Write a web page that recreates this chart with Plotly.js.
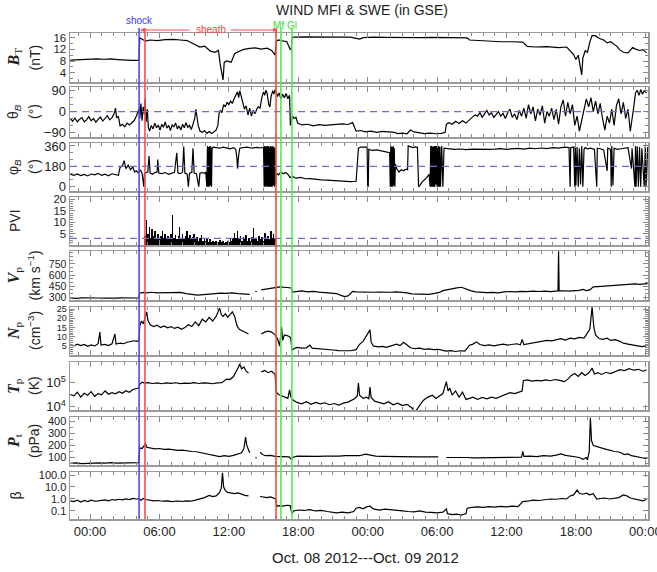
<!DOCTYPE html>
<html><head><meta charset="utf-8">
<script src="https://cdn.plot.ly/plotly-3.0.1.min.js"></script>
<style>html,body{margin:0;padding:0;background:#fff}#chart{width:657px;height:572px}</style>
</head><body><div id="chart"></div>
<script>
// Time in hours since 2012-10-08 00:00 UT, value
const BT = [[-1.7,8.3],[-1.2,8.4],[-0.6,8.5],[0,8.6],[0.6,8.7],[1.2,8.6],[1.8,8.7],[2.4,8.5],[3.0,8.3],[3.6,8.2],[4.1,8.2],[4.24,8.3],[4.3,16.0],[4.5,15.6],[4.8,14.8],[5.2,15.2],[5.8,15.0],[6.5,15.3],[7.2,15.4],[7.8,15.2],[8.4,15.0],[8.8,14.2],[9.2,13.5],[9.5,12.8],[9.9,13.1],[10.4,11.4],[10.8,11.0],[11.1,11.6],[11.25,7.0],[11.4,3.5],[11.5,1.5],[11.6,7.5],[11.8,8.0],[12.2,7.6],[12.5,10.5],[12.8,11.2],[13.3,12.0],[13.8,12.3],[14.3,12.5],[14.8,12.1],[15.3,12.4],[15.7,11.6],[16.0,10.0],[16.1,14.8],[16.3,15.2],[16.6,14.9],[17.0,14.7],[17.3,12.0],[17.4,11.8],[17.45,15.8],[17.6,16.2],[18.5,16.3],[19.5,16.2],[20.5,16.3],[21.5,16.2],[22.5,16.2],[23.3,15.5],[23.6,16.0],[24.5,16.2],[25.5,16.1],[26.5,16.0],[27.5,16.0],[28.5,16.0],[29.5,16.1],[30.5,16.0],[31.5,16.0],[32.6,15.9],[32.8,15.2],[33.5,15.0],[34.5,14.8],[35.5,14.6],[36.5,14.6],[37.4,14.5],[37.8,13.0],[38.5,12.8],[39.5,12.9],[40.5,12.6],[41.2,12.8],[41.5,11.5],[41.8,10.2],[42.0,8.5],[42.2,10.0],[42.4,5.5],[42.5,3.2],[42.6,9.0],[42.8,11.5],[43.0,11.0],[43.2,14.5],[43.4,16.8],[43.7,16.6],[44.0,15.8],[44.4,15.2],[44.7,14.2],[45.0,14.6],[45.2,14.0],[45.5,13.2],[45.8,11.8],[46.1,11.0],[46.5,10.8],[46.9,12.6],[47.2,12.0],[47.5,11.6],[47.8,11.9],[48.1,10.8]];

const THETA = [[-1.7,-30],[-1.5,-42],[-1.3,-28],[-1.1,-45],[-0.9,-33],[-0.7,-26],[-0.5,-44],[-0.3,-36],[-0.1,-22],[0.1,-40],[0.3,-30],[0.5,-46],[0.7,-34],[0.9,-24],[1.1,-41],[1.3,-30],[1.5,-18],[1.7,-36],[1.9,-26],[2.1,-8],[2.2,15],[2.3,-28],[2.45,-20],[2.6,-62],[2.8,-55],[3.0,-66],[3.2,-50],[3.4,-58],[3.6,-48],[3.8,-40],[4.0,-20],[4.15,5],[4.24,12],[4.3,-30],[4.4,35],[4.5,-40],[4.6,20],[4.7,-10],[4.75,55],[4.85,-45],[4.95,10],[5.05,-70],[5.15,-84],[5.3,-60],[5.45,-75],[5.6,-50],[5.75,-70],[5.9,-58],[6.05,-80],[6.2,-55],[6.35,-68],[6.5,-45],[6.65,-72],[6.8,-60],[6.95,-82],[7.1,-58],[7.25,-66],[7.4,-50],[7.55,-75],[7.7,-62],[7.85,-80],[8.0,-55],[8.15,-70],[8.3,-48],[8.45,-68],[8.6,-60],[8.75,-78],[8.9,-55],[9.05,-30],[9.15,10],[9.25,-20],[9.35,-60],[9.5,-84],[9.7,-90],[9.9,-82],[10.1,-94],[10.3,-86],[10.5,-95],[10.7,-88],[10.9,-80],[11.05,-60],[11.15,-10],[11.25,5],[11.4,-5],[11.55,30],[11.7,20],[11.85,40],[12.0,30],[12.15,45],[12.3,35],[12.45,55],[12.6,70],[12.75,85],[12.85,60],[12.95,90],[13.05,70],[13.2,40],[13.35,10],[13.5,25],[13.65,-15],[13.8,15],[13.95,-20],[14.1,5],[14.25,-10],[14.4,10],[14.55,20],[14.7,15],[14.85,60],[15.0,85],[15.1,70],[15.2,92],[15.3,80],[15.45,30],[15.55,20],[15.65,65],[15.8,90],[15.9,75],[16.0,95],[16.1,85],[16.2,65],[16.35,80],[16.5,55],[16.65,75],[16.8,60],[16.95,78],[17.1,55],[17.25,70],[17.32,-60],[17.4,-45],[17.5,-20],[17.65,-30],[17.8,-25],[17.95,-50],[18.3,-58],[18.8,-55],[19.3,-62],[19.8,-57],[20.3,-60],[20.8,-58],[21.3,-55],[21.8,-53],[22.3,-56],[22.7,-48],[23.0,-85],[23.4,-82],[23.8,-88],[24.3,-85],[24.8,-90],[25.3,-86],[25.8,-88],[26.3,-90],[26.6,-95],[27.0,-93],[27.4,-96],[27.7,-80],[28.0,-88],[28.4,-92],[28.9,-95],[29.4,-93],[29.9,-96],[30.4,-94],[30.7,-90],[30.8,-55],[31.0,-48],[31.3,-55],[31.6,-42],[31.9,-52],[32.2,-40],[32.5,-50],[32.8,-35],[33.1,-22],[33.3,-15],[33.5,-20],[33.7,-5],[33.9,-25],[34.1,-10],[34.3,5],[34.5,-15],[34.7,-5],[34.9,-25],[35.1,-10],[35.3,0],[35.5,-20],[35.7,-8],[35.9,-30],[36.1,-5],[36.3,10],[36.5,-25],[36.7,-10],[36.9,-35],[37.1,5],[37.3,-20],[37.5,15],[37.7,-30],[37.9,30],[38.1,-10],[38.3,20],[38.5,-40],[38.7,10],[38.9,-15],[39.1,25],[39.3,-50],[39.5,0],[39.7,-20],[39.9,15],[40.1,-35],[40.3,10],[40.5,-55],[40.7,20],[40.9,50],[41.1,-20],[41.3,40],[41.5,-10],[41.7,30],[41.9,-60],[42.1,-20],[42.3,-85],[42.5,-40],[42.7,10],[42.9,55],[43.1,20],[43.3,60],[43.5,0],[43.7,45],[43.9,-10],[44.1,35],[44.3,-30],[44.5,-80],[44.7,-20],[44.9,-50],[45.1,10],[45.3,-60],[45.5,25],[45.7,55],[45.9,-10],[46.1,40],[46.3,-30],[46.5,10],[46.7,-85],[46.85,-40],[47.0,20],[47.15,80],[47.3,92],[47.45,70],[47.6,95],[47.75,75],[47.9,90],[48.1,80]];

const PHI = [[-1.7,110],[-1.4,100],[-1.1,112],[-0.8,98],[-0.5,108],[-0.2,95],[0.1,112],[0.4,104],[0.7,118],[1.0,100],[1.3,110],[1.6,96],[1.9,114],[2.2,105],[2.45,100],[2.6,170],[2.8,185],[2.95,230],[3.1,160],[3.3,190],[3.5,150],[3.7,175],[3.85,130],[4.0,140],[4.15,125],[4.24,130],[4.35,150],[4.5,120],[4.65,0],[4.7,110],[4.85,125],[5.0,130],[5.1,270],[5.2,120],[5.4,110],[5.6,125],[5.8,130],[5.85,240],[5.95,120],[6.2,115],[6.5,125],[6.8,110],[7.0,120],[7.3,128],[7.5,300],[7.6,120],[7.8,115],[8.0,130],[8.1,354],[8.2,120],[8.4,110],[8.5,0],[8.6,120],[8.8,125],[8.9,340],[9.0,120],[9.2,115],[9.4,0],[9.5,120],[9.7,125],[9.9,118],[10.0,130],[10.1,0],[10.15,360],[10.2,0],[10.25,350],[10.3,0],[10.35,360],[10.4,10],[10.45,355],[10.5,0],[10.55,340],[10.65,350],[10.9,345],[11.2,340],[11.5,350],[11.8,345],[12.1,335],[12.4,345],[12.6,330],[12.7,250],[12.75,160],[12.85,280],[12.95,340],[13.2,345],[13.6,350],[14.0,340],[14.4,348],[14.8,342],[15.0,350],[15.05,0],[15.1,360],[15.15,0],[15.2,355],[15.25,5],[15.3,360],[15.35,0],[15.4,360],[15.45,0],[15.5,350],[15.55,0],[15.6,360],[15.65,0],[15.7,355],[15.75,0],[15.8,360],[15.85,10],[15.9,350],[15.95,0],[16.0,340],[16.05,20],[16.1,120],[16.3,105],[16.5,130],[16.7,115],[16.9,125],[17.1,110],[17.3,80],[17.5,90],[17.8,75],[18.2,82],[18.6,70],[19.0,72],[19.5,65],[20.0,60],[20.5,58],[21.0,55],[21.5,50],[22.0,52],[22.5,45],[23.0,48],[23.2,340],[23.4,350],[23.7,348],[23.95,350],[24.0,0],[24.05,5],[24.1,330],[24.4,320],[24.8,325],[25.2,315],[25.6,310],[25.9,300],[25.95,0],[26.0,360],[26.05,0],[26.1,350],[26.15,0],[26.2,360],[26.25,10],[26.3,340],[26.35,0],[26.4,200],[26.5,160],[26.7,130],[26.9,150],[27.1,140],[27.3,155],[27.45,150],[27.5,360],[27.7,350],[27.9,345],[28.1,352],[28.3,348],[28.4,0],[28.5,10],[28.7,40],[28.9,60],[29.1,80],[29.3,110],[29.4,0],[29.45,360],[29.5,0],[29.55,360],[29.6,0],[29.65,350],[29.7,0],[29.75,360],[29.8,0],[29.85,360],[29.9,20],[29.95,360],[30.0,0],[30.05,360],[30.1,0],[30.15,360],[30.2,0],[30.25,350],[30.3,0],[30.4,360],[30.5,0],[30.6,340],[31.0,335],[31.5,330],[32.0,333],[32.5,328],[33.0,332],[33.5,330],[34.0,334],[34.5,330],[35.0,332],[35.5,336],[36.0,330],[36.5,334],[37.0,338],[37.5,332],[38.0,340],[38.5,335],[39.0,342],[39.5,336],[40.0,345],[40.5,340],[41.0,350],[41.4,345],[41.5,0],[41.55,345],[41.8,350],[41.9,0],[41.95,360],[42.0,10],[42.1,350],[42.2,0],[42.3,340],[42.4,20],[42.5,360],[42.6,0],[42.7,330],[42.8,345],[43.0,335],[43.3,340],[43.6,330],[43.8,0],[43.85,340],[44.1,335],[44.4,325],[44.7,140],[44.75,340],[45.0,330],[45.05,0],[45.1,360],[45.2,10],[45.3,340],[45.6,330],[45.9,335],[46.2,340],[46.5,345],[46.8,160],[46.85,340],[47.1,0],[47.15,360],[47.2,0],[47.3,355],[47.4,0],[47.5,350],[47.6,0],[47.7,340],[47.9,0],[48.0,360],[48.05,0],[48.1,60],[48.2,350]];

const PVI = [[4.75,4],[4.875,11],[5.0,5],[5.125,8],[5.25,3],[5.375,7],[5.5,4],[5.625,6],[5.75,3],[5.875,5],[6.0,2.5],[6.125,4],[6.25,6],[6.375,3],[6.5,5],[6.625,2.5],[6.75,4],[6.875,3],[7.0,5],[7.125,13],[7.25,3],[7.375,4.5],[7.5,2.5],[7.625,4],[7.75,8],[7.875,3],[8.0,5],[8.125,2.5],[8.25,4],[8.375,6],[8.5,3],[8.625,4.5],[8.75,2.5],[8.875,3.5],[9.0,5],[9.125,2.5],[9.25,3.5],[9.375,2],[9.5,3],[9.625,4.5],[9.75,2],[9.875,3],[10.0,1.8],[10.125,2.5],[10.25,1.5],[10.375,2.8],[10.5,1.5],[10.625,2],[10.75,1.2],[10.875,1.8],[11.0,1],[11.125,1.5],[11.25,2.2],[11.375,1.2],[11.5,1.8],[11.625,1],[11.75,1.5],[11.875,2],[12.0,1.2],[12.125,2.5],[12.25,1.8],[12.375,3],[12.5,5.5],[12.625,3],[12.75,6],[12.875,2.5],[13.0,4],[13.125,2],[13.25,3.5],[13.375,2.5],[13.5,4.5],[13.625,2],[13.75,3],[13.875,1.8],[14.0,3.5],[14.125,7.5],[14.25,2.5],[14.375,3],[14.5,2],[14.625,4],[14.75,2.5],[14.875,3.5],[15.0,2],[15.125,5.5],[15.25,3],[15.375,4],[15.5,2.5],[15.625,6],[15.75,3],[15.875,5],[16.0,2.5]];

const VP = [[-1.7,290],[-1.2,285],[-0.7,292],[-0.2,288],[0.3,294],[0.8,290],[1.3,287],[1.8,293],[2.3,289],[2.8,292],[3.3,288],[3.8,291],[4.2,290],[4.3,355],[4.6,365],[4.9,360],[5.3,368],[5.8,358],[6.3,362],[6.8,356],[7.3,360],[7.8,365],[8.3,350],[8.8,338],[9.3,330],[9.8,335],[10.3,345],[10.8,350],[11.3,355],[11.8,352],[12.3,358],[12.8,350],[13.3,345],[13.8,340],[14.0,null],[14.3,385],[14.4,375],[14.5,null],[14.8,400],[15.2,410],[15.6,420],[16.0,430],[16.4,440],[16.8,435],[17.2,430],[17.4,425],[17.5,370],[17.8,375],[18.3,385],[18.8,372],[19.3,380],[19.8,370],[20.3,365],[20.8,360],[21.3,350],[21.7,325],[22.0,310],[22.3,318],[22.7,380],[23.0,372],[23.5,368],[24.0,372],[24.5,368],[25.0,370],[25.5,366],[26.0,368],[26.5,372],[27.0,366],[27.4,360],[27.8,345],[28.3,340],[28.8,336],[29.3,340],[29.8,352],[30.2,365],[30.5,390],[30.9,405],[31.3,415],[31.7,428],[32.1,435],[32.5,410],[32.9,390],[33.3,372],[33.8,365],[34.3,362],[34.8,366],[35.3,360],[35.8,372],[36.3,378],[36.8,372],[37.3,380],[37.8,375],[38.3,382],[38.8,378],[39.3,383],[39.8,376],[40.3,380],[40.45,385],[40.5,920],[40.55,385],[40.9,388],[41.4,382],[41.9,390],[42.3,392],[42.6,405],[42.9,390],[43.2,400],[43.5,440],[43.9,445],[44.3,450],[44.7,448],[45.1,455],[45.5,462],[45.9,470],[46.3,465],[46.7,472],[47.1,480],[47.5,475],[47.9,482],[48.2,485]];

const NP = [[-1.7,5.5],[-1.4,5.0],[-1.1,6.0],[-0.8,5.2],[-0.5,5.8],[-0.2,4.8],[0.1,5.6],[0.4,5.0],[0.7,6.2],[0.85,12.5],[0.95,5.5],[1.3,5.8],[1.6,5.2],[1.9,6.2],[2.15,11.5],[2.25,6.0],[2.6,6.5],[2.9,6.2],[3.2,7.0],[3.5,7.2],[3.8,7.8],[4.1,7.5],[4.24,8.0],[4.3,16.0],[4.45,18.5],[4.6,17.0],[4.75,20.0],[4.9,23.5],[5.0,19.0],[5.2,16.5],[5.5,15.5],[5.8,16.2],[6.1,15.0],[6.4,15.8],[6.7,14.8],[7.0,15.5],[7.3,14.5],[7.6,15.2],[7.9,14.0],[8.2,15.0],[8.5,16.5],[8.8,15.5],[9.1,18.0],[9.4,16.0],[9.7,19.5],[10.0,18.0],[10.3,20.5],[10.6,18.5],[10.9,21.0],[11.1,24.0],[11.2,25.5],[11.35,22.0],[11.5,21.0],[11.7,22.5],[11.9,20.5],[12.1,22.0],[12.3,23.5],[12.5,21.0],[12.7,16.0],[12.9,14.0],[13.2,13.0],[13.5,12.0],[13.7,11.5],[13.9,null],[14.4,9.0],[14.5,null],[14.8,11.5],[15.1,12.5],[15.4,13.0],[15.7,12.5],[16.0,11.0],[16.2,9.0],[16.4,5.0],[16.55,15.5],[16.65,8.0],[16.8,11.0],[17.1,10.5],[17.35,9.5],[17.45,2.5],[17.6,3.5],[17.9,4.2],[18.3,3.8],[18.7,4.0],[19.0,5.5],[19.2,3.8],[19.6,3.5],[20.0,3.2],[20.5,3.0],[21.0,2.8],[21.5,2.5],[22.0,2.6],[22.5,2.4],[23.0,3.0],[23.3,5.9],[23.6,7.5],[23.8,9.5],[24.0,11.0],[24.2,13.7],[24.3,7.0],[24.5,5.0],[24.9,4.5],[25.3,4.8],[25.6,4.2],[26.0,5.0],[26.5,6.0],[26.8,5.2],[27.1,7.0],[27.4,5.5],[27.7,4.0],[28.1,3.5],[28.5,3.8],[28.9,3.2],[29.3,3.4],[29.7,3.0],[30.1,3.2],[30.5,2.6],[30.8,2.2],[31.2,2.5],[31.6,2.0],[32.0,2.4],[32.4,2.2],[32.8,5.4],[33.1,6.0],[33.4,7.2],[33.7,5.8],[34.1,5.2],[34.5,5.6],[34.9,5.0],[35.3,5.4],[35.7,6.0],[36.1,5.5],[36.5,5.8],[36.9,6.2],[37.2,5.6],[37.35,8.5],[37.5,5.8],[37.9,6.2],[38.3,6.5],[38.7,6.8],[39.1,7.2],[39.5,8.0],[39.9,7.8],[40.3,8.5],[40.7,9.0],[41.1,8.2],[41.5,9.2],[41.9,8.8],[42.3,9.6],[42.7,9.2],[42.9,11.0],[43.2,14.0],[43.4,26.0],[43.55,15.0],[43.7,11.0],[44.0,9.0],[44.3,8.6],[44.7,9.2],[45.0,8.0],[45.4,8.4],[45.8,7.5],[46.1,6.5],[46.5,6.0],[46.9,5.4],[47.3,5.0],[47.7,4.6],[48.1,5.0]];

const TP = [[-1.7,32000],[-1.4,28000],[-1.1,40000],[-0.8,25000],[-0.5,36000],[-0.2,30000],[0.1,42000],[0.4,27000],[0.7,35000],[1.0,31000],[1.3,45000],[1.6,33000],[1.9,38000],[2.2,34000],[2.5,42000],[2.8,36000],[3.1,46000],[3.4,40000],[3.7,52000],[4.0,55000],[4.2,60000],[4.3,85000],[4.5,105000],[4.7,95000],[5.0,100000],[5.4,92000],[5.8,98000],[6.2,90000],[6.6,97000],[7.0,93000],[7.4,99000],[7.8,91000],[8.2,96000],[8.6,94000],[9.0,100000],[9.4,92000],[9.8,97000],[10.2,95000],[10.6,90000],[11.0,98000],[11.4,100000],[11.8,140000],[12.1,135000],[12.4,180000],[12.6,300000],[12.8,420000],[12.95,600000],[13.1,380000],[13.3,450000],[13.5,300000],[13.7,250000],[13.9,null],[14.3,190000],[14.5,null],[14.8,280000],[15.1,320000],[15.4,260000],[15.7,300000],[16.0,220000],[16.1,40000],[16.3,32000],[16.6,28000],[16.9,25000],[17.1,22000],[17.25,50000],[17.35,26000],[17.6,18000],[17.9,15000],[18.3,13000],[18.7,16000],[19.1,12500],[19.5,15000],[19.9,13000],[20.3,14500],[20.7,12000],[21.1,13500],[21.5,11500],[21.9,14000],[22.3,15500],[22.6,18000],[22.9,22000],[23.1,28000],[23.2,95000],[23.3,30000],[23.6,22000],[23.9,25000],[24.1,21000],[24.2,65000],[24.3,24000],[24.6,17000],[25.0,15000],[25.4,13000],[25.8,16000],[26.2,12000],[26.6,14000],[27.0,11000],[27.4,12500],[27.8,9000],[28.1,6000],[28.4,10000],[28.8,18000],[29.2,25000],[29.6,30000],[29.9,22000],[30.2,28000],[30.5,35000],[30.8,110000],[30.95,45000],[31.1,60000],[31.3,30000],[31.6,45000],[31.9,25000],[32.2,40000],[32.5,20000],[32.8,22000],[33.1,25000],[33.5,20000],[33.9,24000],[34.3,21000],[34.7,25000],[35.1,22000],[35.5,26000],[35.9,32000],[36.3,38000],[36.7,35000],[37.1,40000],[37.35,45000],[37.45,120000],[37.8,130000],[38.2,115000],[38.6,125000],[39.0,118000],[39.4,130000],[39.8,120000],[40.2,135000],[40.6,125000],[41.0,110000],[41.3,140000],[41.6,200000],[41.9,240000],[42.2,180000],[42.5,260000],[42.8,200000],[43.1,250000],[43.4,400000],[43.6,230000],[43.9,260000],[44.2,220000],[44.6,270000],[45.0,240000],[45.4,280000],[45.8,350000],[46.2,320000],[46.6,380000],[47.0,330000],[47.4,360000],[47.8,300000],[48.1,340000]];

const PT = [[-1.7,52],[-1.2,55],[-0.7,50],[-0.2,54],[0.3,52],[0.8,56],[1.3,53],[1.8,57],[2.3,54],[2.8,56],[3.3,58],[3.8,57],[4.2,58],[4.3,180],[4.5,175],[4.7,200],[4.8,215],[4.9,185],[5.2,178],[5.6,172],[6.0,175],[6.4,168],[6.8,170],[7.2,165],[7.6,160],[8.0,162],[8.4,155],[8.8,150],[9.2,148],[9.6,140],[10.0,130],[10.4,125],[10.8,112],[11.2,108],[11.6,115],[12.0,110],[12.4,118],[12.8,130],[13.1,140],[13.3,175],[13.45,270],[13.55,200],[13.7,160],[13.8,140],[13.9,null],[14.3,100],[14.4,95],[14.5,null],[14.7,145],[14.9,125],[15.2,115],[15.6,118],[16.0,110],[16.4,108],[16.8,112],[17.2,105],[17.4,85],[17.5,100],[17.9,112],[18.5,110],[19.1,113],[19.7,110],[20.3,112],[20.9,110],[21.5,112],[22.1,115],[22.7,112],[23.3,115],[23.8,128],[24.2,120],[24.7,112],[25.3,110],[25.9,108],[26.5,110],[27.1,106],[27.7,108],[28.3,105],[28.9,106],[29.5,104],[30.1,105],[30.4,null],[30.8,100],[31.4,102],[32.0,98],[32.6,100],[33.2,97],[33.8,98],[34.4,96],[35.0,98],[35.6,97],[36.2,100],[36.8,98],[37.3,102],[37.4,150],[37.5,110],[38.0,112],[38.6,108],[39.2,115],[39.8,112],[40.3,120],[40.7,130],[41.1,118],[41.5,110],[41.9,105],[42.3,100],[42.6,85],[42.9,100],[43.0,80],[43.15,150],[43.25,430],[43.35,240],[43.5,200],[43.8,190],[44.1,180],[44.4,175],[44.7,165],[45.0,160],[45.3,150],[45.6,148],[45.9,140],[46.2,125],[46.5,130],[46.8,115],[47.1,110],[47.4,100],[47.7,95],[48.0,92],[48.2,98]];

const BETA = [[-1.7,0.7],[-1.4,0.6],[-1.1,0.8],[-0.8,0.55],[-0.5,0.75],[-0.2,0.6],[0.1,0.8],[0.4,0.65],[0.7,0.7],[1.0,0.75],[1.3,0.85],[1.6,0.7],[1.9,0.9],[2.2,0.8],[2.5,0.95],[2.8,0.85],[3.1,1.0],[3.4,0.9],[3.7,1.1],[4.0,1.0],[4.24,1.05],[4.4,0.8],[4.6,1.1],[4.8,0.9],[5.1,0.8],[5.5,0.7],[5.9,0.75],[6.3,0.65],[6.7,0.7],[7.1,0.6],[7.5,0.68],[7.9,0.62],[8.3,0.7],[8.7,0.65],[9.1,0.8],[9.5,1.0],[9.9,1.3],[10.3,2.0],[10.6,1.6],[10.9,1.8],[11.2,3.5],[11.35,8.0],[11.45,150],[11.55,10],[11.7,5.0],[11.9,3.5],[12.2,3.0],[12.5,2.8],[12.8,3.2],[13.1,2.5],[13.4,2.0],[13.7,1.8],[13.9,null],[14.3,1.5],[14.5,null],[14.7,1.6],[15.0,1.4],[15.3,1.3],[15.6,1.5],[15.9,1.2],[16.05,1.0],[16.15,0.25],[16.4,0.28],[16.7,0.25],[17.0,0.3],[17.3,0.28],[17.45,0.06],[17.6,0.1],[18.0,0.12],[18.5,0.11],[19.0,0.13],[19.5,0.1],[20.0,0.11],[20.5,0.09],[20.9,0.08],[21.3,0.07],[21.8,0.08],[22.3,0.07],[22.8,0.09],[23.0,0.17],[23.3,0.2],[23.6,0.15],[23.9,0.22],[24.2,0.25],[24.5,0.15],[25.0,0.12],[25.5,0.14],[26.0,0.12],[26.5,0.11],[27.0,0.1],[27.5,0.09],[28.0,0.085],[28.5,0.1],[29.0,0.08],[29.5,0.075],[30.0,0.07],[30.5,0.08],[30.8,0.15],[30.9,0.06],[31.3,0.05],[31.7,0.055],[32.1,0.045],[32.5,0.06],[32.6,0.17],[33.0,0.2],[33.5,0.22],[34.0,0.2],[34.5,0.23],[35.0,0.21],[35.5,0.24],[36.0,0.22],[36.5,0.25],[37.0,0.23],[37.4,0.6],[37.8,0.65],[38.3,0.8],[38.8,0.75],[39.3,0.9],[39.8,1.0],[40.3,0.95],[40.8,1.1],[41.2,1.0],[41.5,1.8],[41.8,2.2],[42.1,5.5],[42.3,3.0],[42.6,2.5],[42.9,3.0],[43.2,2.2],[43.5,2.8],[43.8,1.0],[44.1,1.1],[44.5,1.2],[44.9,1.0],[45.3,1.1],[45.7,1.3],[46.1,2.2],[46.4,1.8],[46.7,1.2],[47.0,1.0],[47.4,0.85],[47.8,0.7],[48.1,0.9]];

// Event times (hours): shock, sheath start, sheath end, MFGI start, MFGI end
const EVENT_HOURS = [4.24, 4.75, 16.08, 16.5, 17.45];
const EVENT_NAMES = ['shock', 'sheath', 'sheath', 'mfgi', 'mfgi'];
// Reference levels (dashed): [panel, value] theta 0, phi 180, PVI 3
const DASH_LEVELS = [[2, 0], [3, 180], [4, 3]];

const X_RANGE_H = [-1.73, 48.23];

// ---- build ----
function d(h) { return new Date(Date.UTC(2012, 9, 8) + h * 3600e3).toISOString().slice(0, 19).replace('T', ' '); }

const panelTop = [33, 87, 143, 197, 251, 307, 362, 417, 472];
const panelBot = [82, 137, 191, 245, 300, 355, 410, 465, 519];
const plotTop = 33, plotBot = 519, plotL = 70, plotW = 578;
const py = p => (plotBot - p) / (plotBot - plotTop);
const px = p => (p - plotL) / plotW;

const series = [BT, THETA, PHI, PVI, VP, NP, TP, PT, BETA];
const yConf = [
  {range: [0.8, 17.6], tickvals: [4, 8, 12, 16], minor: 2, fs: 11.5},
  {range: [-110, 106], tickvals: [-90, 0, 90], minor: 30, fs: 13},
  {range: [-38, 386], tickvals: [0, 180, 360], minor: 60, fs: 13},
  {range: [0.1, 21], tickvals: [5, 10, 15, 20], minor: 1, fs: 11.5},
  {range: [263, 925], tickvals: [300, 450, 600, 750], minor: 50, fs: 10.5},
  {range: [0.1, 26.1], tickvals: [5, 10, 15, 20, 25], minor: 1, fs: 9},
  {range: [3.86, 5.86], type: 'log', tickvals: [1e4, 1e5], ticktext: ['10<sup>4</sup>', '10<sup>5</sup>'], fs: 13},
  {range: [38, 436], tickvals: [100, 200, 300, 400], minor: 50, fs: 11},
  {range: [-1.67, 2.25], type: 'log', tickvals: [0.1, 1, 10, 100], ticktext: ['0.1', '1.0', '10.0', '100.0'], fs: 11}
];
const labels = [
  ['<b><i>B</i></b><sub>T</sub>', '(nT)'],
  ['θ<sub><i>B</i></sub>', '(°)'],
  ['φ<sub><i>B</i></sub>', '(°)'],
  ['PVI', null],
  ['<b><i>V</i></b><sub>p</sub>', '(km s<sup>−1</sup>)'],
  ['<b><i>N</i></b><sub>p</sub>', '(cm<sup>−3</sup>)'],
  ['<b><i>T</i></b><sub>p</sub>', '(K)'],
  ['<b><i>P</i></b><sub>t</sub>', '(pPa)'],
  ['β', null]
];

const traces = [];
const layout = {
  width: 657, height: 572,
  margin: {l: 70, r: 9, t: 33, b: 53},
  paper_bgcolor: '#fff', plot_bgcolor: '#fff', showlegend: false,
  font: {family: 'Liberation Sans, Arial, sans-serif', size: 13, color: '#222'},
  title: {text: 'WIND MFI & SWE (in GSE)', x: 362 / 657, xanchor: 'center', y: 1 - 10 / 572, yanchor: 'middle', font: {size: 14, color: '#222'}},
  bargap: 0,
  shapes: [], annotations: []
};

const axisLine = '#9a9a9a', tickCol = '#888';
for (let i = 0; i < 9; i++) {
  const s = i === 0 ? '' : String(i + 1);
  const pts = series[i];
  const xs = pts.map(p => d(p[0])), ys = pts.map(p => p[1]);
  if (i === 3) {
    traces.push({type: 'bar', x: xs, y: ys, xaxis: 'x' + s, yaxis: 'y' + s, width: 0.125 * 3600e3, marker: {color: '#000', line: {width: 0}}, hoverinfo: 'skip'});
  } else {
    traces.push({type: 'scatter', mode: 'lines', x: xs, y: ys, xaxis: 'x' + s, yaxis: 'y' + s, line: {color: '#000', width: 1.2}, connectgaps: false, hoverinfo: 'skip'});
  }
  const dom = [py(panelBot[i]), py(panelTop[i])];
  layout['xaxis' + s] = {
    type: 'date', domain: [0, 1], anchor: 'y' + s, range: [d(X_RANGE_H[0]), d(X_RANGE_H[1])],
    showline: true, linecolor: axisLine, linewidth: 1.5, mirror: 'ticks',
    ticks: 'inside', ticklen: 5, tickcolor: tickCol, tickwidth: 1,
    tick0: d(0), dtick: 6 * 3600e3, tickformat: '%H:%M',
    showticklabels: i === 8, ticklabeloverflow: 'allow', showgrid: false, zeroline: false,
    tickfont: {size: 13, color: '#222'},
    minor: {dtick: 3600e3, ticks: 'inside', ticklen: 3, tickcolor: tickCol, showgrid: false}
  };
  const c = yConf[i];
  const ya = {
    domain: dom, anchor: 'x' + s, range: c.range, type: c.type || 'linear',
    showline: true, linecolor: axisLine, linewidth: 1.5, mirror: 'ticks',
    ticks: 'inside', ticklen: 5, tickcolor: tickCol, tickwidth: 1,
    tickmode: 'array', tickvals: c.tickvals, showgrid: false, zeroline: false,
    tickfont: {size: c.fs, color: '#222'}
  };
  if (c.ticktext) ya.ticktext = c.ticktext;
  if (c.minor) ya.minor = {dtick: c.minor, ticks: 'inside', ticklen: 3, tickcolor: tickCol, showgrid: false};
  layout['yaxis' + s] = ya;

  const yc = (dom[0] + dom[1]) / 2;
  const lab = labels[i];
  const serif = lab[0].indexOf('<b>') >= 0;
  layout.annotations.push({xref: 'paper', yref: 'paper', x: px(lab[1] ? 14 : 15), y: yc, text: lab[0], textangle: -90, showarrow: false, xanchor: 'center', yanchor: 'middle',
    font: {family: serif ? 'Liberation Serif, Times New Roman, serif' : 'Liberation Sans, Arial, sans-serif', size: serif ? 16 : 14, color: '#222'}});
  if (lab[1]) layout.annotations.push({xref: 'paper', yref: 'paper', x: px(34), y: yc, text: lab[1], textangle: -90, showarrow: false, xanchor: 'center', yanchor: 'middle', font: {size: 14, color: '#222'}});
}

// dashed reference lines
DASH_LEVELS.forEach(([panel, lev]) => {
  const s = panel === 1 ? '' : String(panel);
  layout.shapes.push({type: 'line', xref: 'x' + s, yref: 'y' + s, x0: d(X_RANGE_H[0]), x1: d(X_RANGE_H[1]), y0: lev, y1: lev, line: {color: '#6b6bdc', width: 1.2, dash: '7px,5px'}, layer: 'above'});
});

// event lines
const evColor = {shock: '#4a4aff', sheath: '#ff4a4a', mfgi: '#4df04d'};
EVENT_HOURS.forEach((h, k) => {
  layout.shapes.push({type: 'line', xref: 'x9', yref: 'paper', x0: d(h), x1: d(h), y0: 0, y1: py(28), line: {color: evColor[EVENT_NAMES[k]], width: 1.6}, layer: 'above'});
});

// event labels
const lblFont = {family: 'Liberation Sans Narrow, Liberation Sans, sans-serif', size: 10};
layout.annotations.push({xref: 'x9', yref: 'paper', x: d(EVENT_HOURS[0]), y: py(21), text: 'shock', showarrow: false, xanchor: 'center', yanchor: 'middle', font: Object.assign({color: '#3a3aff'}, lblFont)});
const sheathMid = (EVENT_HOURS[1] + EVENT_HOURS[2]) / 2;
layout.annotations.push({xref: 'x9', yref: 'paper', x: d(sheathMid), y: py(29), text: 'sheath', showarrow: false, xanchor: 'center', yanchor: 'middle', font: Object.assign({color: '#ff3a3a'}, lblFont)});
layout.annotations.push({xref: 'x9', yref: 'paper', x: d((EVENT_HOURS[3] + EVENT_HOURS[4]) / 2 - 0.1), y: py(25), text: 'Mf Gl', showarrow: false, xanchor: 'center', yanchor: 'middle', font: Object.assign({color: '#2ee02e'}, lblFont)});
// sheath arrows
layout.annotations.push({xref: 'x9', yref: 'paper', x: d(EVENT_HOURS[0] + 0.1), y: py(30), axref: 'x9', ayref: 'pixel', ax: d(sheathMid - 1.7), ay: 0, text: '', showarrow: true, arrowhead: 2, arrowsize: 0.8, arrowwidth: 1, arrowcolor: '#ff4a4a', standoff: 0, startstandoff: 0});
layout.annotations.push({xref: 'x9', yref: 'paper', x: d(EVENT_HOURS[2] + 0.1), y: py(30), axref: 'x9', ayref: 'pixel', ax: d(sheathMid + 1.6), ay: 0, text: '', showarrow: true, arrowhead: 2, arrowsize: 0.8, arrowwidth: 1, arrowcolor: '#ff4a4a', standoff: 0, startstandoff: 0});

// x label
layout.annotations.push({xref: 'paper', yref: 'paper', x: px(365), y: py(557), text: 'Oct. 08 2012---Oct. 09 2012', showarrow: false, xanchor: 'center', yanchor: 'middle', font: {size: 15, color: '#222'}});

Plotly.newPlot('chart', traces, layout, {staticPlot: true, displayModeBar: false});
</script></body></html>
